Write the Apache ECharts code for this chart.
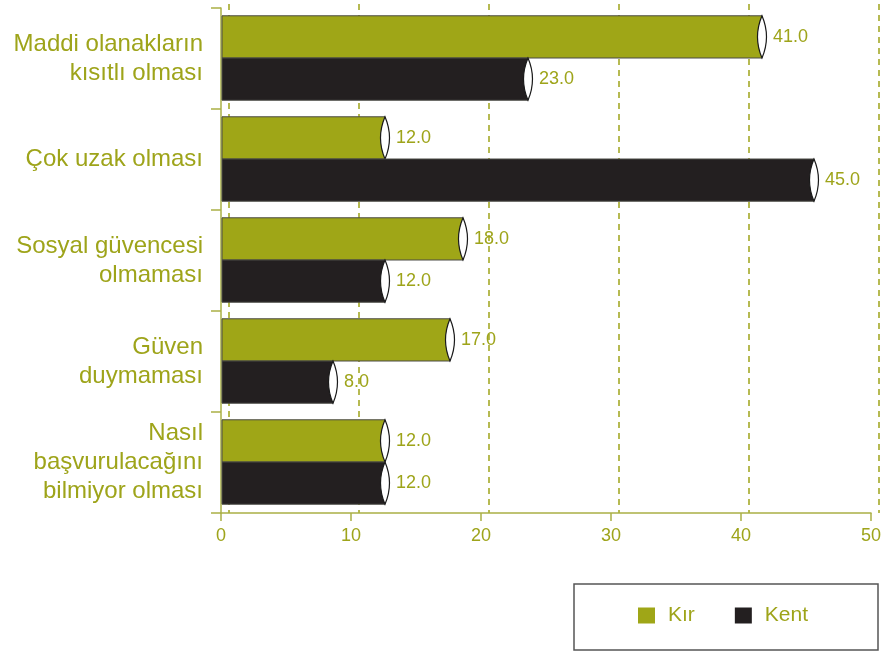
<!DOCTYPE html>
<html>
<head>
<meta charset="utf-8">
<script src="https://cdn.jsdelivr.net/npm/echarts@6/dist/echarts.min.js"></script>
<style>
  html, body { margin: 0; padding: 0; background: #fff; }
  #main { width: 884px; height: 653px; }
</style>
</head>
<body>
<div id="main"></div>
<script>
var categories = [
    'Maddi olanakların\nkısıtlı olması',
    'Çok uzak olması',
    'Sosyal güvencesi\nolmaması',
    'Güven\nduymaması',
    'Nasıl\nbaşvurulacağını\nbilmiyor olması'
];
var kirValues = [41.0, 12.0, 18.0, 17.0, 12.0];
var kentValues = [23.0, 45.0, 12.0, 8.0, 12.0];
var seriesNames = ['Kır', 'Kent'];

var green = '#9fa617';
var dark = '#231f20';
var olive = '#9ea41a';
var axisColor = '#aab045';
var depth = 8; // 3d offset of the bar ends and grid lines

function makeData(values) {
    return values.map(function (v, i) { return [v, i]; });
}

function renderBar(which) {
    return function (params, api) {
        var cat = api.value(1);
        var val = api.value(0);
        var start = api.coord([0, cat]);
        var end = api.coord([val, cat]);
        var bandH = api.size([0, 1])[1];
        var barH = bandH * 0.418;
        var mid = start[1] - 0.5;
        var top = which === 0 ? mid - barH : mid;
        var x0 = start[0] + 1;
        var cx = end[0] + depth;
        var w = 9;
        var color = which === 0 ? green : dark;
        var lens = 'M' + cx + ',' + top +
            ' Q' + (cx + w) + ',' + (top + barH / 2) + ' ' + cx + ',' + (top + barH) +
            ' Q' + (cx - w) + ',' + (top + barH / 2) + ' ' + cx + ',' + top + ' Z';
        return {
            type: 'group',
            children: [
                {
                    type: 'rect',
                    shape: { x: x0, y: top, width: cx - x0, height: barH },
                    style: { fill: color, stroke: '#4a4a44', lineWidth: 1 }
                },
                {
                    type: 'path',
                    shape: { pathData: lens },
                    style: { fill: '#fff', stroke: '#1a1a1a', lineWidth: 1.2 }
                },
                {
                    type: 'text',
                    style: {
                        text: val.toFixed(1),
                        x: cx + 11,
                        y: top + barH / 2,
                        verticalAlign: 'middle',
                        align: 'left',
                        fill: olive,
                        fontSize: 18,
                        fontFamily: 'Liberation Sans'
                    }
                }
            ]
        };
    };
}

var myChart = echarts.init(document.getElementById('main'));
var option = {
    animation: false,
    textStyle: { fontFamily: 'Liberation Sans' },
    graphic: [{
        type: 'rect',
        z: 0,
        shape: { x: 574, y: 584, width: 304, height: 66 },
        style: { fill: '#fff', stroke: '#555', lineWidth: 1.5 }
    }],
    legend: {
        left: 638,
        top: 605,
        padding: 0,
        itemWidth: 17,
        itemHeight: 16,
        itemGap: 40,
        icon: 'rect',
        z: 10,
        data: seriesNames,
        textStyle: { fontSize: 21, color: olive, padding: [0, 0, 0, 8], fontFamily: 'Liberation Sans' }
    },
    grid: [
        { left: 221, right: 13, top: 8, bottom: 140 },
        { left: 229, right: 5, top: 4, bottom: 140 }
    ],
    xAxis: [
        {
            type: 'value', gridIndex: 0, min: 0, max: 50, interval: 10,
            splitLine: { show: false },
            axisLine: { show: true, lineStyle: { color: axisColor, width: 1.5 } },
            axisTick: { show: true, length: 8, lineStyle: { color: axisColor, width: 1.5 } },
            axisLabel: { color: olive, fontSize: 18, margin: 14 }
        },
        {
            type: 'value', gridIndex: 1, min: 0, max: 50, interval: 10,
            axisLine: { show: false }, axisTick: { show: false }, axisLabel: { show: false },
            splitLine: { show: true, lineStyle: { color: olive, width: 1.5, type: [6, 5] } }
        }
    ],
    yAxis: [
        {
            type: 'category', gridIndex: 0, inverse: true, data: categories,
            axisLine: { show: true, lineStyle: { color: axisColor, width: 1.5 } },
            axisTick: { show: true, length: 10, alignWithLabel: false, lineStyle: { color: axisColor, width: 1.5 } },
            axisLabel: { color: olive, fontSize: 24, lineHeight: 29, margin: 18, align: 'right' },
            splitLine: { show: false }
        },
        {
            type: 'category', gridIndex: 1, inverse: true, data: categories, show: false
        }
    ],
    series: [
        {
            name: seriesNames[0],
            type: 'custom',
            xAxisIndex: 0, yAxisIndex: 0,
            itemStyle: { color: green },
            renderItem: renderBar(0),
            encode: { x: 0, y: 1 },
            data: makeData(kirValues),
            z: 5
        },
        {
            name: seriesNames[1],
            type: 'custom',
            xAxisIndex: 0, yAxisIndex: 0,
            itemStyle: { color: dark },
            renderItem: renderBar(1),
            encode: { x: 0, y: 1 },
            data: makeData(kentValues),
            z: 5
        }
    ]
};
myChart.setOption(option);
</script>
</body>
</html>
